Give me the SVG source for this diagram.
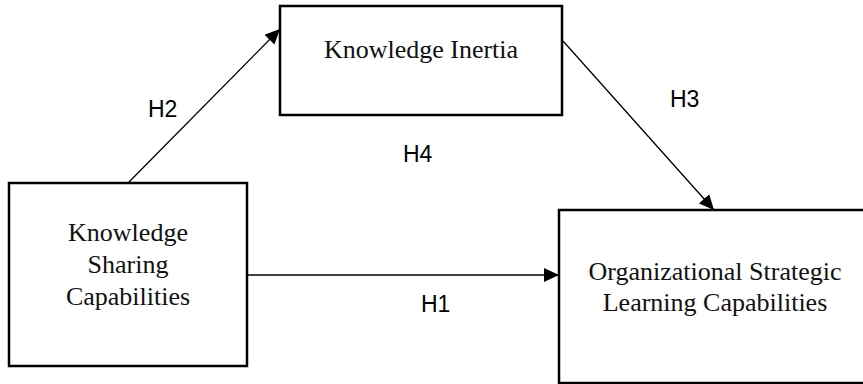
<svg xmlns="http://www.w3.org/2000/svg" width="863" height="384" viewBox="0 0 863 384">
<style>
.box{fill:#fff;stroke:#000;stroke-width:2.5}
.node{font-family:"Liberation Serif","Times New Roman",serif;font-size:26px;fill:#111;text-anchor:middle}
.lbl{font-family:"Liberation Sans",Arial,sans-serif;font-size:23px;fill:#000}
.con{stroke:#000;stroke-width:1.3;fill:none;marker-end:url(#ah)}
</style>
<defs>
<marker id="ah" markerUnits="userSpaceOnUse" markerWidth="16" markerHeight="14" refX="15" refY="7" orient="auto">
<path d="M0,0 L15,7 L0,14 Z" fill="#000"/>
</marker>
</defs>
<rect width="863" height="384" fill="#fff"/>
<g id="connectors">
<line class="con" x1="128" y1="183" x2="280" y2="29"/>
<line class="con" x1="563" y1="41" x2="714" y2="210"/>
<line class="con" x1="247" y1="275" x2="559" y2="275"/>
</g>
<g id="ksc">
<rect class="box" x="9" y="183" width="238" height="183"/>
<text class="node" x="128" y="241">Knowledge</text>
<text class="node" x="128" y="273">Sharing</text>
<text class="node" x="128" y="305">Capabilities</text>
</g>
<g id="ki">
<rect class="box" x="280" y="6" width="282" height="109"/>
<text class="node" x="421" y="58">Knowledge Inertia</text>
</g>
<g id="oslc">
<rect class="box" x="559" y="210" width="313" height="173"/>
<text class="node" x="715" y="280">Organizational Strategic</text>
<text class="node" x="715" y="311">Learning Capabilities</text>
</g>
<g id="labels">
<text class="lbl" x="148" y="117">H2</text>
<text class="lbl" x="670" y="107">H3</text>
<text class="lbl" x="403" y="162">H4</text>
<text class="lbl" x="421" y="312">H1</text>
</g>
</svg>
